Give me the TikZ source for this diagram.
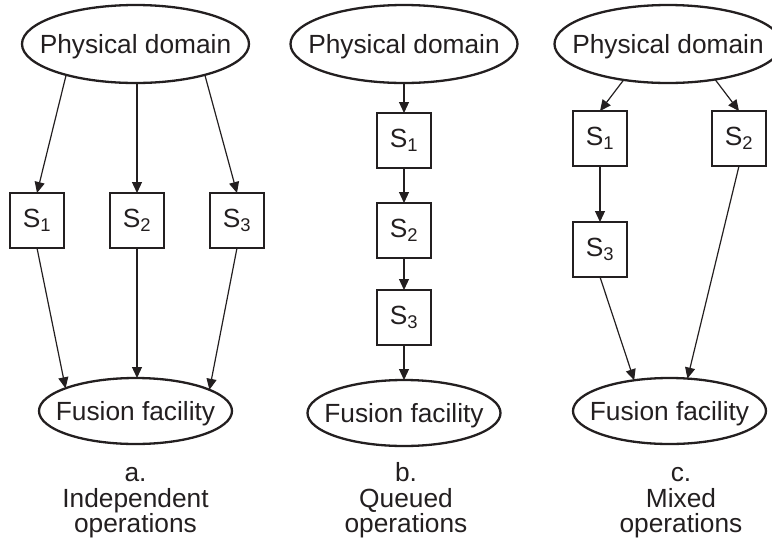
\documentclass[tikz,border=0pt]{standalone}
\usepackage{fontspec}
\setmainfont{Liberation Sans}
\usetikzlibrary{arrows.meta, positioning, shapes.geometric}
\definecolor{ink}{RGB}{35,31,32}

\begin{document}
\begin{tikzpicture}[
  x=1pt, y=-1pt,
  font=\fontsize{26.3}{25.5}\selectfont,
  every node/.style = {text=ink},
  every label/.style = {yshift=-3pt},
  physical/.style = {draw=ink, line width=2.3pt, ellipse, minimum width=227pt, minimum height=78pt, inner sep=0pt, outer sep=0pt},
  fusion/.style = {draw=ink, line width=2.3pt, ellipse, minimum width=193pt, minimum height=66pt, inner sep=0pt, outer sep=0pt},
  sensor/.style = {draw=ink, line width=1.4pt, minimum width=54pt, minimum height=55pt, inner sep=0pt, outer sep=0pt},
  arrow/.style = {draw=ink, line width=1.2pt, -{Triangle[length=11pt, width=10pt]}},
  caption/.style = {align=center, anchor=north, inner sep=0pt}
]
  \useasboundingbox (0,0) rectangle (772,542);

  % a. Independent operations
  \node[physical, label=center:{Physical domain}] (pd_a) at (135.5, 44) {};
  \node[sensor, below=110pt of pd_a, xshift=1.5pt] (s2_a) {S\textsubscript{2}};
  \node[sensor, left=46pt of s2_a] (s1_a) {S\textsubscript{1}};
  \node[sensor, right=46pt of s2_a] (s3_a) {S\textsubscript{3}};
  \node[fusion, label=center:{Fusion facility}] (ff_a) at (135.5, 411) {};
  \node[caption] (cap_a) at (135.5, 462.5) {\vphantom{Ib}a.\\Independent\\operations};

  \draw[arrow] (pd_a.204) -- (s1_a.north);
  \draw[arrow] (pd_a.south -| s2_a) -- (s2_a.north);
  \draw[arrow] (pd_a.336) -- (s3_a.north);
  \draw[arrow] (s1_a.south) -- (ff_a.162);
  \draw[arrow] (s2_a.south) -- (s2_a.south |- ff_a.north);
  \draw[arrow] (s3_a.south) -- (ff_a.16);

  % b. Queued operations
  \node[physical, label=center:{Physical domain}] (pd_b) at (404, 44) {};
  \node[sensor, below=30pt of pd_b] (s1_b) {S\textsubscript{1}};
  \node[sensor, below=35pt of s1_b] (s2_b) {S\textsubscript{2}};
  \node[sensor, below=32pt of s2_b] (s3_b) {S\textsubscript{3}};
  \node[fusion, below=35pt of s3_b, label=center:{Fusion facility}] (ff_b) {};
  \node[caption] (cap_b) at (406, 462.5) {\vphantom{Ib}b.\\Queued\\operations};

  \draw[arrow] (pd_b.south) -- (s1_b.north);
  \draw[arrow] (s1_b.south) -- (s2_b.north);
  \draw[arrow] (s2_b.south) -- (s3_b.north);
  \draw[arrow] (s3_b.south) -- (ff_b.north);

  % c. Mixed operations
  \node[physical, label=center:{Physical domain}] (pd_c) at (668, 44) {};
  \node[sensor, below=28pt of pd_c, xshift=-68pt] (s1_c) {S\textsubscript{1}};
  \node[sensor, below=28pt of pd_c, xshift=71pt] (s2_c) {S\textsubscript{2}};
  \node[sensor, below=56pt of s1_c] (s3_c) {S\textsubscript{3}};
  \node[fusion, label=center:{Fusion facility}] (ff_c) at (669.5, 411) {};
  \node[caption] (cap_c) at (681, 462.5) {\vphantom{Ib}c.\\Mixed\\operations};

  \draw[arrow] (pd_c.219) -- (s1_c.north);
  \draw[arrow] (pd_c.323) -- (s2_c.north);
  \draw[arrow] (s1_c.south) -- (s3_c.north);
  \draw[arrow] (s3_c.south) -- (ff_c.139);
  \draw[arrow] (s2_c.south) -- (ff_c.61);

\end{tikzpicture}
\end{document}
